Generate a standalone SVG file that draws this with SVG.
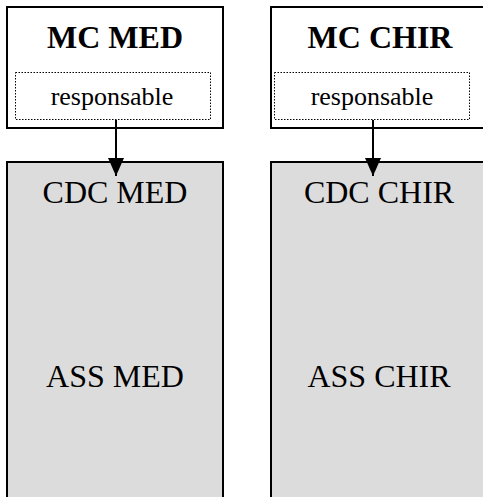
<svg xmlns="http://www.w3.org/2000/svg" width="483" height="497" viewBox="0 0 483 497">
  <style>
    .box { fill: #ffffff; stroke: #000000; stroke-width: 2; }
    .unit { fill: #dcdcdc; stroke: #000000; stroke-width: 2; }
    .role { fill: none; stroke: #000000; stroke-width: 1; stroke-dasharray: 1.5 1.5; }
    .link { stroke: #000000; stroke-width: 2; fill: none; }
  </style>
  <defs>
    <marker id="arrow" markerWidth="16" markerHeight="18" refX="8" refY="18" orient="0" markerUnits="userSpaceOnUse">
      <path d="M0,0 L16,0 L8,18 Z" fill="#000000"/>
    </marker>
  </defs>

  <!-- lower service blocks -->
  <g id="service-med">
    <rect class="unit" x="7" y="162" width="216" height="345"/>
    <text x="115" y="203" font-family="Liberation Serif" font-size="32" text-anchor="middle">CDC MED</text>
    <text x="115" y="387" font-family="Liberation Serif" font-size="32" text-anchor="middle">ASS MED</text>
  </g>
  <g id="service-chir">
    <rect class="unit" x="271" y="162" width="216" height="345"/>
    <text x="379" y="203" font-family="Liberation Serif" font-size="32" text-anchor="middle">CDC CHIR</text>
    <text x="379" y="387" font-family="Liberation Serif" font-size="32" text-anchor="middle">ASS CHIR</text>
  </g>

  <!-- upper head blocks -->
  <g id="mc-med">
    <rect class="box" x="7" y="7" width="216" height="121"/>
    <text x="115" y="48" font-family="Liberation Serif" font-size="32" font-weight="bold" text-anchor="middle">MC MED</text>
    <rect class="role" x="15.5" y="72.5" width="195" height="47"/>
    <text x="112" y="105" font-family="Liberation Serif" font-size="26" text-anchor="middle">responsable</text>
  </g>
  <g id="mc-chir">
    <rect class="box" x="271" y="7" width="216" height="121"/>
    <text x="380" y="48" font-family="Liberation Serif" font-size="32" font-weight="bold" text-anchor="middle">MC CHIR</text>
    <rect class="role" x="274.5" y="72.5" width="195" height="47"/>
    <text x="372" y="105" font-family="Liberation Serif" font-size="26" text-anchor="middle">responsable</text>
  </g>

  <!-- connectors -->
  <g id="connectors">
    <line class="link" x1="116" y1="120" x2="116" y2="176" marker-end="url(#arrow)"/>
    <line class="link" x1="373" y1="120" x2="373" y2="176" marker-end="url(#arrow)"/>
  </g>
</svg>
